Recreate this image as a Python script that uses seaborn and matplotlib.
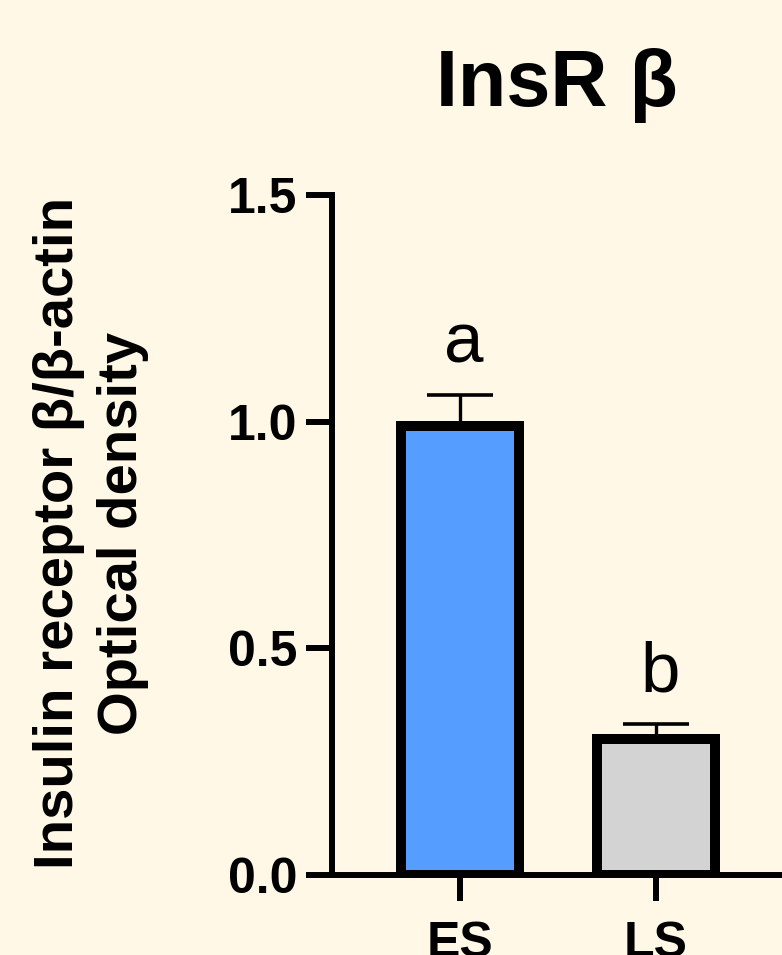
import matplotlib
matplotlib.use("Agg")
import matplotlib.pyplot as plt
import seaborn as sns
import pandas as pd

# Data
groups = ["ES", "LS"]
means = [0.99, 0.30]
sem = [0.068, 0.032]
letters = ["a", "b"]
bar_colors = ["#559EFF", "#D3D3D3"]
y_ticks = [0.0, 0.5, 1.0, 1.5]

bg = "#FFF8E6"

sns.set_theme(style="ticks")
plt.rcParams["font.family"] = ["Liberation Sans", "DejaVu Sans"]
plt.rcParams.update({"text.color": "black", "axes.labelcolor": "black",
                     "xtick.color": "black", "ytick.color": "black"})

df = pd.DataFrame({"group": groups, "value": means})

fig = plt.figure(figsize=(7.82, 9.55), dpi=100, facecolor=bg)
ax = fig.add_axes([0.4246, 0.0838, 0.5754, 0.712])
ax.set_facecolor(bg)

sns.barplot(data=df, x="group", y="value", hue="group", palette=bar_colors,
            saturation=1, width=0.6, edgecolor="black", linewidth=7.2,
            legend=False, errorbar=None, ax=ax)

# upward-only SEM bars
for i, (m, e) in enumerate(zip(means, sem)):
    ax.errorbar(i, m, yerr=[[0], [e]], fmt="none", ecolor="black",
                elinewidth=2.4, capsize=24, capthick=2.6, zorder=1)

# significance letters
for i, (m, e, t) in enumerate(zip(means, sem, letters)):
    ax.annotate(t, xy=(i, m + e), xytext=(3, 24), textcoords="offset points",
                ha="center", va="baseline", fontsize=51, color="black")

ax.set_xlim(-0.653, 1.643)
ax.set_ylim(0, 1.5)
ax.set_yticks(y_ticks)
ax.set_yticklabels([f"{v:.1f}" for v in y_ticks])
ax.set_xlabel("")
ax.set_ylabel("")

for s in ["top", "right"]:
    ax.spines[s].set_visible(False)
for s in ["left", "bottom"]:
    ax.spines[s].set_linewidth(4.3)
    ax.spines[s].set_color("black")

ax.tick_params(axis="both", which="major", length=19, width=4.3, color="black",
               labelsize=36, pad=6)
for lab in ax.get_xticklabels() + ax.get_yticklabels():
    lab.set_fontweight("bold")
ax.tick_params(axis="x", pad=14)

ax.set_title("InsR β", fontsize=57, fontweight="bold", pad=64)

fig.text(91 / 782, 1 - 533 / 955, "Insulin receptor β/β-actin\nOptical density",
         rotation=90, ha="center", va="center", multialignment="center",
         fontsize=40.5, fontweight="bold", linespacing=1.3)

fig.savefig("out.png", dpi=100, facecolor=bg)
